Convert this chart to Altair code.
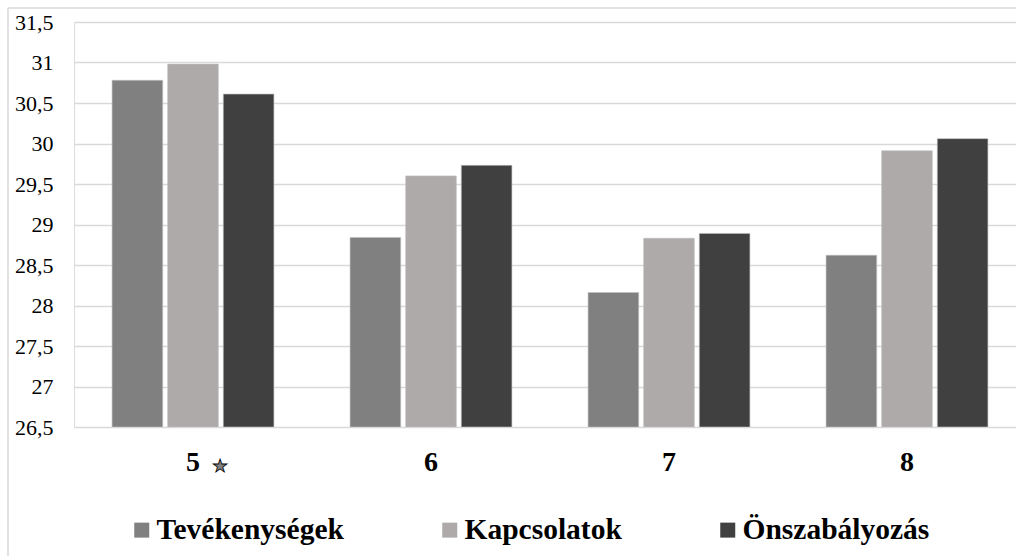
import altair as alt
import pandas as pd

# Grade levels and the three scale means per grade
grades = ["5", "6", "7", "8"]
series = ["Tevékenységek", "Kapcsolatok", "Önszabályozás"]
tevekenysegek = [30.78, 28.84, 28.16, 28.62]
kapcsolatok = [30.98, 29.60, 28.83, 29.91]
onszabalyozas = [30.61, 29.73, 28.89, 30.06]
colors = ["#808080", "#AEAAAA", "#404040"]
y_ticks = [26.5, 27, 27.5, 28, 28.5, 29, 29.5, 30, 30.5, 31, 31.5]
starred_grade = ["5"]

rows = []
for name, vals in zip(series, [tevekenysegek, kapcsolatok, onszabalyozas]):
    for g, v in zip(grades, vals):
        rows.append({"grade": g, "series": name, "value": v})
df = pd.DataFrame(rows)

SERIF = "'Liberation Serif', 'Times New Roman', Times, serif"
GRID = "#d9d9d9"

x_enc = alt.X(
    "grade:N",
    sort=grades,
    scale=alt.Scale(range=[0, 952], paddingInner=0.32, paddingOuter=0.16),
    axis=alt.Axis(
        title=None, ticks=False, domain=False, labelAngle=0,
        labelFont=SERIF, labelFontSize=28, labelFontWeight="bold",
        labelColor="black", labelPadding=21,
    ),
)

bars = alt.Chart(df).mark_bar(stroke="#bdbdbd", strokeWidth=0.6, clip=True).encode(
    x=x_enc,
    xOffset=alt.XOffset("series:N", sort=series,
                        scale=alt.Scale(paddingInner=0.09)),
    y=alt.Y(
        "value:Q",
        scale=alt.Scale(domain=[26.5, 31.5], nice=False, zero=False),
        axis=alt.Axis(
            title=None, values=y_ticks, ticks=False, domain=False,
            grid=True, gridColor=GRID, gridWidth=1.5,
            labelFont=SERIF, labelFontSize=22, labelColor="black",
            labelPadding=21,
            labelExpr="replace(format(datum.value, '~g'), '.', ',')",
        ),
    ),
    y2=alt.datum(26.5),
    color=alt.Color(
        "series:N", sort=series,
        scale=alt.Scale(domain=series, range=colors),
        legend=alt.Legend(
            title=None, orient="none", direction="horizontal",
            legendX=53, legendY=493, padding=0,
            symbolType="square", symbolSize=225, symbolStrokeWidth=0,
            labelFont=SERIF, labelFontSize=29.5, labelFontWeight="bold",
            labelColor="black", labelOffset=0, columnPadding=91,
            labelLimit=400,
        ),
    ),
)

# small star after the grade-5 label
star = alt.Chart(pd.DataFrame({"grade": starred_grade})).mark_text(
    text="★", font="DejaVu Sans", fontSize=18, fill="#808080",
    stroke="black", strokeWidth=0.8, dx=27,
).encode(
    x=alt.X("grade:N", sort=grades),
    y=alt.value(445),
)

# chart-area frame (top and left edges)
frame_top = alt.Chart(pd.DataFrame({"a": [0]})).mark_rule(
    color=GRID, strokeWidth=1.5
).encode(x=alt.value(-66), x2=alt.value(1000), y=alt.value(-14))
frame_left = alt.Chart(pd.DataFrame({"a": [0]})).mark_rule(
    color=GRID, strokeWidth=1.5
).encode(x=alt.value(-66), y=alt.value(-14), y2=alt.value(600))

chart = alt.layer(bars, star, frame_top, frame_left).properties(
    width=942, height=405,
    autosize=alt.AutoSizeParams(type="none"),
    padding={"left": 74, "top": 22, "right": 0, "bottom": 129},
).configure_view(stroke=None).configure(background="white", font=SERIF)

chart.save("out.html", embed_options={"renderer": "svg", "actions": False})
